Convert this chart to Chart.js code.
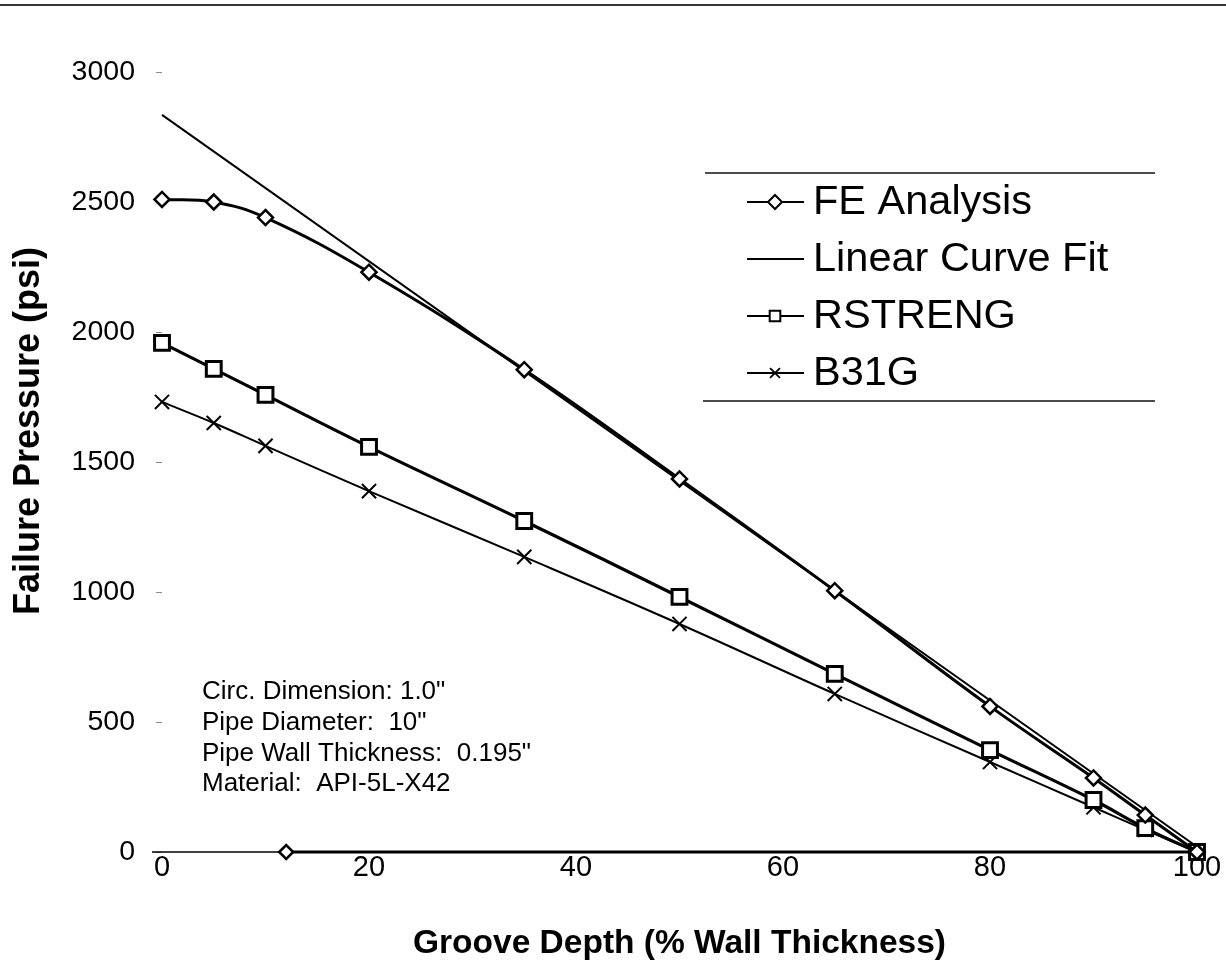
<!DOCTYPE html>
<html>
<head>
<meta charset="utf-8">
<script src="https://cdn.jsdelivr.net/npm/chart.js@4/dist/chart.umd.min.js"></script>
<style>
  html, body { margin: 0; padding: 0; background: #fff; }
  #wrap { width: 1226px; height: 972px; }
</style>
</head>
<body>
<div id="wrap"><canvas id="c" width="1226" height="972"></canvas></div>
<script>
// Groove depth (% of wall thickness) and failure pressures (psi)
const depth = [0, 5, 10, 20, 35, 50, 65, 80, 90, 95, 100];
const feAnalysis = [2510, 2500, 2440, 2230, 1855, 1435, 1005, 560, 285, 142, 0];
const rstreng = [1958, 1858, 1758, 1558, 1273, 981, 685, 392, 200, 92, 0];
const b31g = [1731, 1650, 1562, 1388, 1135, 877, 608, 346, 172, 85, 0];

// Straight-line fit through the FE results
const fitDepth = [0, 100];
const fitPressure = [2835, 20];

// Extra FE point lying on the zero-pressure line
const zeroDepth = [12, 100];
const zeroPressure = [0, 0];

const xTicks = [0, 20, 40, 60, 80, 100];
const yTicks = [0, 500, 1000, 1500, 2000, 2500, 3000];

const xTitle = 'Groove Depth (% Wall Thickness)';
const yTitle = 'Failure Pressure (psi)';
const notes = [
  'Circ. Dimension: 1.0"',
  'Pipe Diameter:  10"',
  'Pipe Wall Thickness:  0.195"',
  'Material:  API-5L-X42'
];

const FONT = '"Liberation Sans", Arial, Helvetica, sans-serif';
const pts = (xs, ys) => xs.map((x, i) => ({ x: x, y: ys[i] }));

const datasets = [
  {
    label: 'FE Analysis',
    data: pts(depth, feAnalysis),
    borderColor: '#000', backgroundColor: '#fff',
    borderWidth: 3, tension: 0.4,
    pointStyle: 'rectRot', pointRadius: 7.5, pointBorderWidth: 2.5,
    legendMarker: { style: 'rectRot', radius: 7, width: 2 }
  },
  {
    label: 'Linear Curve Fit',
    data: pts(fitDepth, fitPressure),
    borderColor: '#000', backgroundColor: '#fff',
    borderWidth: 2, tension: 0, pointRadius: 0,
    legendMarker: null
  },
  {
    label: 'RSTRENG',
    data: pts(depth, rstreng),
    borderColor: '#000', backgroundColor: '#fff',
    borderWidth: 3.2, tension: 0.4,
    pointStyle: 'rect', pointRadius: 10.5, pointBorderWidth: 3,
    legendMarker: { style: 'rect', radius: 7.5, width: 2 }
  },
  {
    label: 'B31G',
    data: pts(depth, b31g),
    borderColor: '#000', backgroundColor: '#fff',
    borderWidth: 2, tension: 0.4,
    pointStyle: 'crossRot', pointRadius: 10, pointBorderWidth: 2,
    legendMarker: { style: 'crossRot', radius: 7, width: 1.8 }
  },
  {
    label: '',
    data: pts(zeroDepth, zeroPressure),
    borderColor: '#000', backgroundColor: '#fff',
    borderWidth: 3, tension: 0,
    pointStyle: 'rectRot', pointRadius: 7, pointBorderWidth: 2.5,
    legendMarker: undefined
  }
];
datasets.forEach(d => { d.showLine = true; d.clip = false; d.pointHoverRadius = d.pointRadius; });

// Legend box, annotation block, rotated y title and the page rule
const decorations = {
  id: 'decorations',
  afterDraw(chart) {
    const ctx = chart.ctx;
    ctx.save();

    // rule along the top of the page
    ctx.strokeStyle = '#333';
    ctx.lineWidth = 2;
    ctx.beginPath(); ctx.moveTo(0, 5); ctx.lineTo(1226, 5); ctx.stroke();

    // legend frame (top and bottom rules)
    ctx.lineWidth = 1.6;
    ctx.strokeStyle = '#111';
    ctx.beginPath(); ctx.moveTo(705, 173); ctx.lineTo(1155, 173); ctx.stroke();
    ctx.beginPath(); ctx.moveTo(703, 401); ctx.lineTo(1155, 401); ctx.stroke();

    // legend entries
    let row = 0;
    chart.data.datasets.forEach(ds => {
      if (ds.legendMarker === undefined) return;
      const y = 202 + row * 57;
      ctx.strokeStyle = '#000';
      ctx.lineWidth = 2;
      ctx.beginPath(); ctx.moveTo(747, y); ctx.lineTo(804, y); ctx.stroke();
      if (ds.legendMarker) {
        ctx.fillStyle = '#fff';
        ctx.strokeStyle = '#000';
        ctx.lineWidth = ds.legendMarker.width;
        Chart.helpers.drawPoint(ctx, {
          pointStyle: ds.legendMarker.style,
          radius: ds.legendMarker.radius,
          borderWidth: ds.legendMarker.width,
          rotation: 0
        }, 775, y);
      }
      ctx.fillStyle = '#000';
      ctx.font = '41.5px ' + FONT;
      ctx.textAlign = 'left';
      ctx.textBaseline = 'middle';
      ctx.fillText(ds.label, 813, y + 1);
      row++;
    });

    // specimen notes
    ctx.fillStyle = '#000';
    ctx.font = '26px ' + FONT;
    ctx.textAlign = 'left';
    ctx.textBaseline = 'middle';
    notes.forEach((t, i) => ctx.fillText(t, 202, 692 + i * 30.7));

    // y axis title
    ctx.translate(29, 431);
    ctx.rotate(-Math.PI / 2);
    ctx.font = 'bold 36px ' + FONT;
    ctx.textAlign = 'center';
    ctx.textBaseline = 'middle';
    ctx.fillText(yTitle, 0, 0);

    ctx.restore();
  }
};

new Chart(document.getElementById('c'), {
  type: 'scatter',
  data: { datasets: datasets },
  options: {
    responsive: false,
    animation: false,
    devicePixelRatio: 1,
    layout: { padding: { left: 0, right: 29, top: 72, bottom: 0 } },
    plugins: { legend: { display: false }, tooltip: { enabled: false } },
    scales: {
      x: {
        type: 'linear', min: 0, max: 100,
        afterBuildTicks: s => { s.ticks = xTicks.map(v => ({ value: v })); },
        afterFit: s => { s.height = 120; },
        grid: { display: false, drawTicks: false },
        border: { display: false },
        ticks: {
          color: '#000', padding: 1,
          font: { family: FONT, size: 29, lineHeight: 1 },
          callback: v => String(v)
        },
        title: {
          display: true, text: xTitle, color: '#000',
          font: { family: FONT, size: 33.5, weight: 'bold', lineHeight: 1.2 },
          padding: { top: 0, bottom: 8 }
        }
      },
      y: {
        type: 'linear', min: 0, max: 3000,
        afterBuildTicks: s => { s.ticks = yTicks.map(v => ({ value: v })); },
        afterFit: s => { s.width = 162; },
        grid: {
          display: true, drawOnChartArea: false, drawTicks: true,
          tickLength: 6, color: '#8a8a8a', lineWidth: 1
        },
        border: { display: false },
        ticks: {
          color: '#000', padding: 21,
          font: { family: FONT, size: 28.5, lineHeight: 1 },
          callback: v => String(v)
        }
      }
    }
  },
  plugins: [decorations, {
    id: 'zeroLine',
    beforeDatasetsDraw(chart) {
      // thin zero-pressure line across the plot
      const { ctx, chartArea } = chart;
      const y0 = chart.scales.y.getPixelForValue(0);
      ctx.save();
      ctx.strokeStyle = '#000';
      ctx.lineWidth = 1.3;
      ctx.beginPath(); ctx.moveTo(chartArea.left - 10, y0); ctx.lineTo(chartArea.right, y0); ctx.stroke();
      ctx.restore();
    }
  }]
});
</script>
</body>
</html>
